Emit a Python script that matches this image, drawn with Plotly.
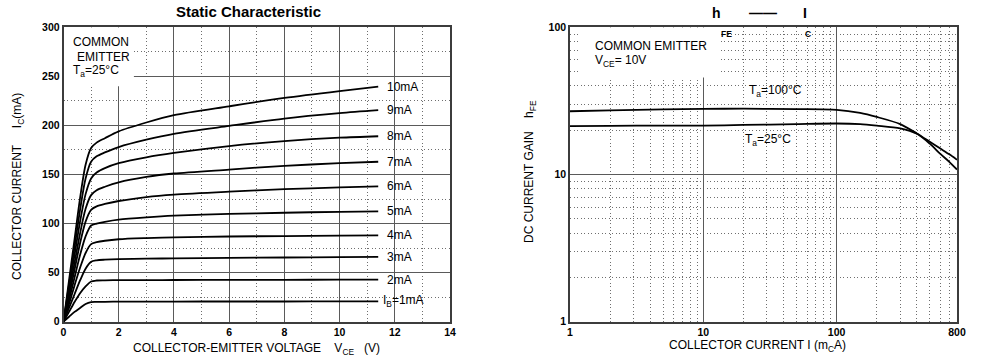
import plotly.graph_objects as go

# ---------------- data: static characteristic (left) ----------------
vce = [0, 0.2, 0.4, 0.6, 0.8, 1.0, 1.2, 1.5, 2, 3, 4, 6, 8, 10, 11.4]
ib_labels = ["I<sub>B</sub>=1mA", "2mA", "3mA", "4mA", "5mA", "6mA", "7mA", "8mA", "9mA", "10mA"]
ic_1mA = [0, 5, 10, 14, 18, 20, 20.2, 20.3, 20.4, 20.5, 20.5, 20.6, 20.6, 20.7, 20.7]
ic_2mA = [0, 10, 20, 29, 36, 41, 42, 42.2, 42.3, 42.4, 42.5, 42.6, 42.7, 42.8, 42.9]
ic_3mA = [0, 14, 28, 42, 54, 61, 62.5, 63.2, 63.8, 64.2, 64.5, 65, 65.4, 65.8, 66]
ic_4mA = [0, 18, 37, 55, 70, 79, 81, 82.5, 84, 85.2, 86, 86.8, 87.3, 87.8, 88]
ic_5mA = [0, 22, 45, 68, 87, 98, 100, 101.8, 104, 106.3, 108, 109.8, 111, 112, 112.5]
ic_6mA = [0, 26, 53, 80, 102, 114, 117.5, 120, 123, 127, 129.5, 132.5, 135, 136.8, 138]
ic_7mA = [0, 30, 60, 90, 115, 129, 134, 137.5, 142, 147.5, 151, 155, 158.8, 161.5, 163]
ic_8mA = [0, 34, 68, 102, 130, 146, 152, 156.5, 161.5, 167.5, 172, 179, 184, 187.5, 189]
ic_9mA = [0, 38, 76, 114, 146, 163, 168.5, 172.5, 178, 185.5, 191.5, 199.5, 207, 212.5, 215.5]
ic_10mA = [0, 42, 84, 126, 160, 177, 182.5, 187, 194, 203, 210.5, 219.5, 228, 235, 239.5]
ic_series = [ic_1mA, ic_2mA, ic_3mA, ic_4mA, ic_5mA, ic_6mA, ic_7mA, ic_8mA, ic_9mA, ic_10mA]

# ---------------- data: hFE vs Ic (right) ----------------
ic_ma = [1, 2, 5, 10, 20, 50, 100, 150, 200, 300, 400, 500, 600, 700, 800]
hfe_100C = [26.9, 27.3, 27.7, 27.9, 28.0, 27.8, 27.5, 26.2, 24.6, 22.0, 19.0, 16.7, 15.0, 13.7, 12.6]
hfe_25C = [21.3, 21.4, 21.5, 21.5, 21.7, 22.0, 22.2, 22.0, 21.5, 20.6, 18.9, 16.2, 13.8, 12.2, 10.8]

left_xticks = [0, 2, 4, 6, 8, 10, 12, 14]
left_yticks = [0, 50, 100, 150, 200, 250, 300]
right_xticks = [1, 10, 100, 800]
right_yticks = [1, 10, 100]

W, H = 986, 358
FONT = "Liberation Sans, Arial, sans-serif"

def px(xp):
    return xp / W

def py(yp):
    return 1 - yp / H

fig = go.Figure()

for vals in ic_series:
    fig.add_trace(go.Scatter(x=vce, y=vals, mode="lines", xaxis="x", yaxis="y",
                             line=dict(color="black", width=1.8, shape="spline", smoothing=0.8),
                             showlegend=False, hoverinfo="skip"))

for vals in (hfe_100C, hfe_25C):
    fig.add_trace(go.Scatter(x=ic_ma, y=vals, mode="lines", xaxis="x2", yaxis="y2",
                             line=dict(color="black", width=1.8, shape="spline", smoothing=0.8),
                             showlegend=False, hoverinfo="skip"))

major_grid = "#5a5a5a"
minor_grid = "#6e6e6e"
frame = "#3c3c3c"
DOT = "1px,2.5px"
tickfont = dict(family=FONT, size=10.5, color="black", weight="bold")

common_axis = dict(showline=True, mirror=True, linecolor=frame, linewidth=1.5,
                   showgrid=True, gridcolor=major_grid, gridwidth=1.2, automargin=False,
                   zeroline=False, ticks="", tickfont=tickfont, fixedrange=True)

fig.update_layout(
    width=W, height=H,
    margin=dict(l=0, r=0, t=0, b=0),
    paper_bgcolor="white", plot_bgcolor="white",
    xaxis=dict(domain=[px(63.5), px(450)], range=[0, 14], tickvals=left_xticks,
               minor=dict(dtick=1, tick0=0, showgrid=True, griddash=DOT, gridcolor=minor_grid, gridwidth=1),
               anchor="y", **common_axis),
    yaxis=dict(domain=[py(321.7), py(27.3)], range=[0, 300], tickvals=left_yticks,
               minor=dict(dtick=25, tick0=0, showgrid=True, griddash=DOT, gridcolor=minor_grid, gridwidth=1),
               anchor="x", **common_axis),
    xaxis2=dict(domain=[px(570), px(957)], type="log", range=[0, 2.90309],
                tickvals=right_xticks, ticktext=[str(v) for v in right_xticks],
                minor=dict(tickvals=[2, 3, 4, 5, 6, 7, 8, 9, 20, 30, 40, 50, 60, 70, 80, 90, 200, 300, 400, 500, 600, 700],
                           showgrid=True, griddash=DOT, gridcolor=minor_grid, gridwidth=1),
                anchor="y2", **common_axis),
    yaxis2=dict(domain=[py(321.7), py(27.3)], type="log", range=[0, 2],
                tickvals=right_yticks, ticktext=[str(v) for v in right_yticks],
                minor=dict(tickvals=[2, 3, 4, 5, 6, 7, 8, 9, 20, 30, 40, 50, 60, 70, 80, 90],
                           showgrid=True, griddash=DOT, gridcolor=minor_grid, gridwidth=1),
                anchor="x2", **common_axis),
)

# white boxes behind the note texts
fig.add_shape(type="rect", xref="x", yref="y", x0=0, x1=2.55, y0=240, y1=300,
              fillcolor="white", line=dict(width=0), layer="between")
fig.add_shape(type="rect", xref="x2", yref="y2", x0=1.2, x1=13.3, y0=45.6, y1=100,
              fillcolor="white", line=dict(width=0), layer="between")

def ann(text, x, y, size=12, xanchor="left", bold=False, angle=0, xref="paper", yref="paper"):
    fig.add_annotation(text=text, x=x, y=y, xref=xref, yref=yref, showarrow=False,
                       xanchor=xanchor, yanchor="middle", textangle=angle,
                       font=dict(family=FONT, size=size, color="black", weight="bold" if bold else "normal"))

# curve labels (left)
for lab, vals in zip(ib_labels, ic_series):
    xl = 11.5 if lab.startswith("I") else 11.65
    ann(lab, xl, vals[-1], size=12, xref="x", yref="y")

# titles
ann("Static Characteristic", px(248), py(12), size=15, xanchor="center", bold=True)
ann("h", px(716), py(13), size=14, xanchor="center", bold=True)
ann("——", px(763), py(13), size=14, xanchor="center", bold=True)
ann("I", px(805), py(13), size=14, xanchor="center", bold=True)
ann("FE", px(726), py(34), size=8.5, xanchor="center", bold=True)
ann("C", px(808), py(34), size=8.5, xanchor="center", bold=True)

# notes
ann("COMMON", px(71), py(42), size=12)
ann("EMITTER", px(75), py(57), size=12)
ann("T<sub>a</sub>=25°C", px(71), py(71), size=12)
ann("COMMON EMITTER", px(593), py(46), size=12)
ann("V<sub>CE</sub>= 10V", px(593), py(61), size=12)
ann("T<sub>a</sub>=100°C", px(747), py(91), size=12)
ann("T<sub>a</sub>=25°C", px(743), py(140), size=12)

# axis titles
ann("COLLECTOR-EMITTER VOLTAGE\u00a0\u00a0\u00a0\u00a0V<sub>CE</sub>\u00a0\u00a0\u00a0(V)", px(256.5), py(349), size=12, xanchor="center")
ann("COLLECTOR CURRENT I (m<sub>C</sub>A)", px(757), py(346), size=12, xanchor="center")
ann("COLLECTOR CURRENT\u00a0\u00a0\u00a0\u00a0\u00a0I<sub>C</sub>(mA)", px(18), py(187), size=12, xanchor="center", angle=-90)
ann("DC CURRENT GAIN\u00a0\u00a0\u00a0\u00a0h<sub>FE</sub>", px(530), py(172), size=12, xanchor="center", angle=-90)

fig.write_html("out.html", config={"displayModeBar": False},
               post_script="document.body.style.margin='0';document.body.style.overflow='hidden';")
